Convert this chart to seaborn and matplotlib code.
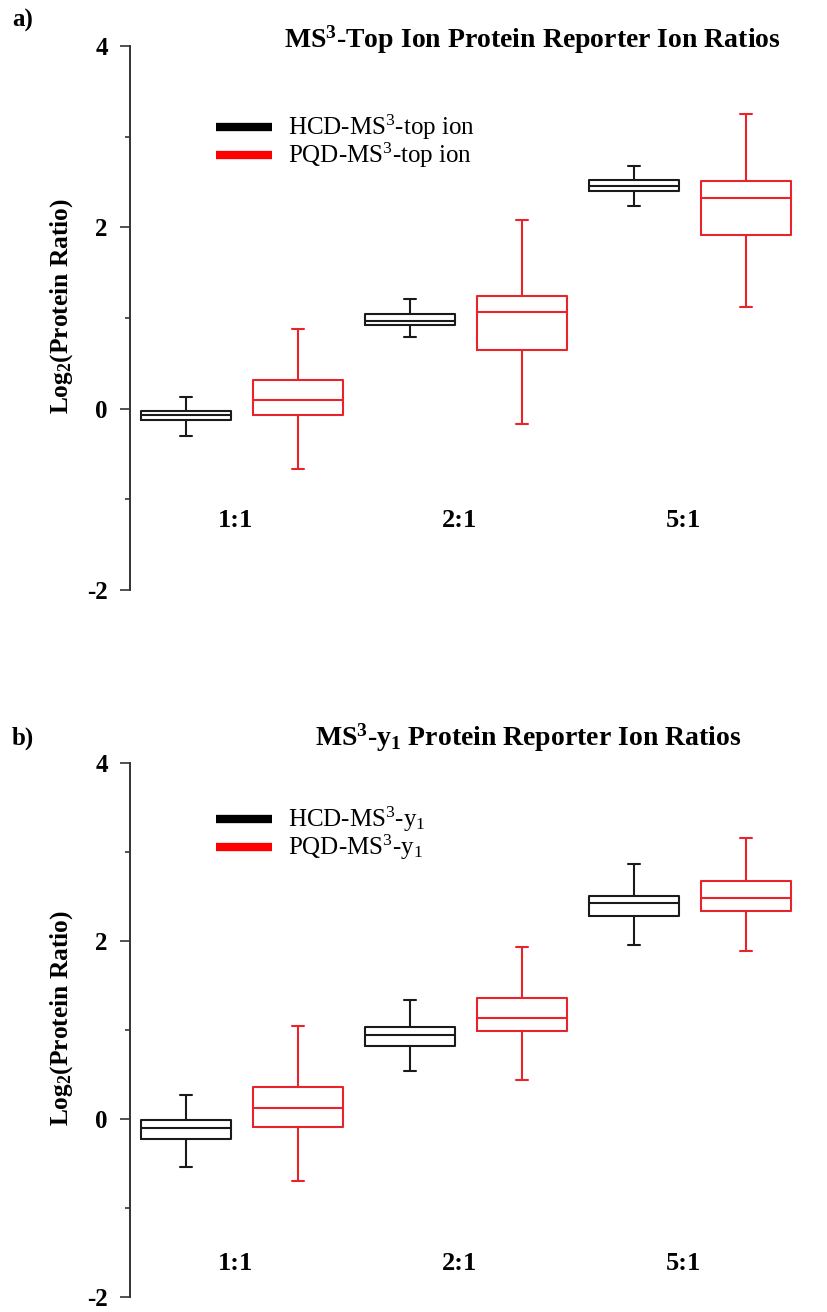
import numpy as np
import pandas as pd
import matplotlib
matplotlib.use("Agg")
import matplotlib.pyplot as plt
from matplotlib.lines import Line2D
import seaborn as sns

# Mixing ratios (x categories) and acquisition methods (hue)
ratios = ["1:1", "2:1", "5:1"]
methods = ["HCD", "PQD"]

# Five-number summaries per box: [lower whisker, Q1, median, Q3, upper whisker]
# Panel a) MS3-top ion
top_hcd = [[-0.30, -0.125, -0.075, -0.025, 0.13],
           [0.79, 0.925, 0.97, 1.04, 1.21],
           [2.23, 2.40, 2.46, 2.52, 2.68]]
top_pqd = [[-0.66, -0.07, 0.10, 0.32, 0.88],
           [-0.17, 0.645, 1.07, 1.24, 2.08],
           [1.12, 1.92, 2.32, 2.51, 3.25]]
# Panel b) MS3-y1
y1_hcd = [[-0.54, -0.23, -0.10, -0.01, 0.27],
          [0.54, 0.82, 0.94, 1.03, 1.34],
          [1.96, 2.28, 2.43, 2.51, 2.86]]
y1_pqd = [[-0.70, -0.09, 0.12, 0.36, 1.04],
          [0.44, 0.99, 1.14, 1.36, 1.93],
          [1.89, 2.34, 2.48, 2.67, 3.16]]

yticks = [-2, 0, 2, 4]
yminor = [-1, 1, 3]

titles = [r"MS$^{\mathbf{3}}$-Top Ion Protein Reporter Ion Ratios",
          r"MS$^{\mathbf{3}}$-y$_{\mathbf{1}}$ Protein Reporter Ion Ratios"]
legend_labels = [[r"HCD-MS$^{\mathrm{3}}$-top ion", r"PQD-MS$^{\mathrm{3}}$-top ion"],
                 [r"HCD-MS$^{\mathrm{3}}$-y$_{\mathrm{1}}$", r"PQD-MS$^{\mathrm{3}}$-y$_{\mathrm{1}}$"]]
panel_tags = ["a)", "b)"]
ylabel = r"Log$_{\mathbf{2}}$(Protein Ratio)"


def to_frame(hcd, pqd):
    rows = []
    for method, summ in zip(methods, [hcd, pqd]):
        for ratio, five in zip(ratios, summ):
            for v in five:
                rows.append({"ratio": ratio, "method": method, "value": v})
    return pd.DataFrame(rows)


sns.set_theme(style="ticks")
plt.rcParams["font.family"] = ["Liberation Serif", "DejaVu Serif"]
plt.rcParams["mathtext.fontset"] = "custom"
plt.rcParams["mathtext.rm"] = "Liberation Serif"
plt.rcParams["mathtext.bf"] = "Liberation Serif:bold"
plt.rcParams["mathtext.it"] = "Liberation Serif:italic"
plt.rcParams["text.color"] = "black"

W, H = 827, 1312
fig = plt.figure(figsize=(W / 100, H / 100), dpi=100)
fig.patch.set_facecolor("white")

palette = {"HCD": "#1a1a1a", "PQD": "#e8232b"}
legend_colors = ["black", "#ff0000"]

# axes placement in pixels: (top, bottom)
ax_px = [(46, 590), (763, 1297)]
left_px, right_px = 130, 802
cat_label_y = [-1.23, -1.62]
title_xy_px = [(532, 40), (528, 738)]
legend_y_px = [113, 805]
tag_y_px = [20, 738]

datasets = [(top_hcd, top_pqd), (y1_hcd, y1_pqd)]

for i, (hcd, pqd) in enumerate(datasets):
    top, bot = ax_px[i]
    ax = fig.add_axes([left_px / W, 1 - bot / H, (right_px - left_px) / W, (bot - top) / H])
    ax.set_facecolor("white")
    df = to_frame(hcd, pqd)
    sns.boxplot(data=df, x="ratio", y="value", hue="method", order=ratios,
                hue_order=methods, palette=palette, saturation=1, fill=False,
                width=1.0, gap=0.2, whis=(0, 100), linewidth=1.5,
                capwidths=0.055, legend=False, ax=ax)
    ax.set_xlim(-0.5, 2.5)
    ax.set_ylim(-2, 4)
    ax.set_xlabel("")
    ax.set_ylabel("")
    ax.set_xticks([])
    ax.set_yticks(yticks)
    ax.set_yticklabels([str(t) for t in yticks], fontweight="bold", fontsize=18)
    ax.set_yticks(yminor, minor=True)
    ax.tick_params(axis="y", which="major", length=7.5, width=1.2, pad=8.5,
                   colors="#333333", labelcolor="black")
    ax.tick_params(axis="y", which="minor", length=3.6, width=1.2, colors="#333333")
    for s in ["top", "right", "bottom"]:
        ax.spines[s].set_visible(False)
    ax.spines["left"].set_linewidth(1.4)
    ax.spines["left"].set_color("#333333")

    for k, r in enumerate(ratios):
        ax.text(k - 0.03, cat_label_y[i], r, ha="center", va="center",
                fontsize=19, fontweight="bold")

    # title
    tx, ty = title_xy_px[i]
    fig.text(tx / W, 1 - ty / H, titles[i], ha="center", va="center",
             fontsize=20, fontweight="bold")
    # panel tag
    fig.text(12 / W, 1 - tag_y_px[i] / H, panel_tags[i], ha="left", va="center",
             fontsize=18, fontweight="bold")
    # y label
    fig.text(62 / W, 1 - ((top + bot) / 2 - 12) / H, ylabel, rotation=90, ha="center",
             va="center", fontsize=18.3, fontweight="bold")

    handles = [Line2D([0], [0], color=c, lw=6, solid_capstyle="butt") for c in legend_colors]
    ax.legend(handles, legend_labels[i], loc="upper left",
              bbox_to_anchor=(216 / W, 1 - legend_y_px[i] / H),
              bbox_transform=fig.transFigure, frameon=False, fontsize=18,
              handlelength=2.24, handletextpad=0.64, labelspacing=-0.05,
              borderaxespad=0, borderpad=0)

fig.savefig("out.png", dpi=100, facecolor="white")
